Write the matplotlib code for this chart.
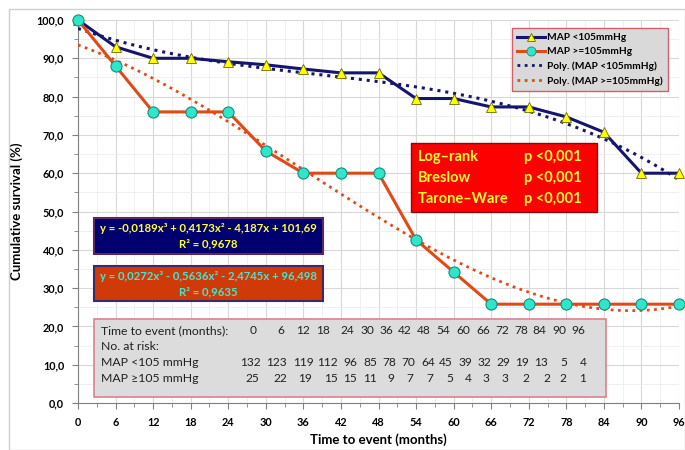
import numpy as np
import matplotlib.pyplot as plt
from matplotlib.lines import Line2D
from matplotlib.patches import Rectangle
from matplotlib.ticker import MultipleLocator, FuncFormatter

plt.rcParams['font.family'] = ['Lato', 'DejaVu Sans']

# dados
meses = [0, 6, 12, 18, 24, 30, 36, 42, 48, 54, 60, 66, 72, 78, 84, 90, 96]
map_baixo = [100, 93.0, 90.0, 90.0, 89.1, 88.3, 87.2, 86.2, 86.2, 79.5, 79.5,
             77.3, 77.3, 74.7, 70.7, 60.0, 60.0]
map_alto = [100, 88.0, 76.0, 76.0, 76.0, 65.8, 60.0, 60.0, 60.0, 42.6, 34.2,
            25.8, 25.8, 25.8, 25.8, 25.8, 25.8]

risco_baixo = [132, 123, 119, 112, 96, 85, 78, 70, 64, 45, 39, 32, 29, 19, 13, 5, 4]
risco_alto = [25, 22, 19, 15, 15, 11, 9, 7, 7, 5, 4, 3, 3, 2, 2, 2, 1]

eq_baixo = ['y = -0,0189x³ + 0,4173x² - 4,187x + 101,69', 'R² = 0,9678']
eq_alto = ['y = 0,0272x³ - 0,5636x² - 2,4745x + 96,498', 'R² = 0,9635']
testes = ['Log\u2013rank', 'Breslow', 'Tarone\u2013Ware']
p_valores = ['p <0,001', 'p <0,001', 'p <0,001']

AZUL = '#15156e'
LARANJA = '#e04a16'

W, H = 685, 450
fig = plt.figure(figsize=(6.85, 4.5), dpi=100)
fig.patch.set_facecolor('white')


def px(x, y):
    return x / W, 1 - y / H


def caixa(x0, y0, x1, y1, fc, ec, lw=1.0):
    fig.patches.append(Rectangle(px(x0, y1), (x1 - x0) / W, (y1 - y0) / H,
                                 transform=fig.transFigure, facecolor=fc,
                                 edgecolor=ec, linewidth=lw, zorder=5))


# moldura externa
fig.patches.append(Rectangle((9 / W, 0), 1 - 9 / W, 1 - 9 / H, transform=fig.transFigure,
                             facecolor='none', edgecolor='#d0d0d0', linewidth=1))

ax = fig.add_axes([78 / W, 1 - 403 / H, (679 - 78) / W, (403 - 20) / H])
ax.set_xlim(0, 96)
ax.set_ylim(0, 100)

ax.xaxis.set_major_locator(MultipleLocator(6))
ax.xaxis.set_minor_locator(MultipleLocator(3))
ax.yaxis.set_major_locator(MultipleLocator(10))
ax.yaxis.set_minor_locator(MultipleLocator(5))
ax.yaxis.set_major_formatter(FuncFormatter(lambda v, p: f'{v:.1f}'.replace('.', ',')))
ax.grid(which='major', color='#d8d8d8', linewidth=0.8)
ax.grid(which='minor', color='#ececec', linewidth=0.6)
ax.set_axisbelow(True)
for s in ['top', 'right']:
    ax.spines[s].set_visible(False)
for s in ['left', 'bottom']:
    ax.spines[s].set_color('#808080')
ax.tick_params(which='both', direction='out', color='#808080')
ax.tick_params(which='major', length=4, labelsize=7.8, pad=6)
ax.tick_params(which='minor', length=3)
for lbl in ax.get_xticklabels() + ax.get_yticklabels():
    lbl.set_fontweight('bold')

ax.set_xlabel('Time to event (months)', fontsize=9.5, fontweight='bold', labelpad=4)
ax.set_ylabel('Cumulative survival (%)', fontsize=9.5, fontweight='bold', labelpad=10)

# curvas
ax.plot(meses, map_baixo, color=AZUL, linewidth=2.2, marker='^', markersize=7,
        markerfacecolor='#ffff00', markeredgecolor='#6b6b00', markeredgewidth=0.6,
        clip_on=False, zorder=4)
ax.plot(meses, map_alto, color=LARANJA, linewidth=2.2, marker='o', markersize=8,
        markerfacecolor='#2ee6c8', markeredgecolor='#1a8a80', markeredgewidth=0.8,
        clip_on=False, zorder=4)

# linhas de tendência polinomiais (grau 3, índice 1..17 como no Excel)
idx = np.arange(1, len(meses) + 1)
xx = np.linspace(1, len(meses), 200)
xm = (xx - 1) * 6
pb = np.polyfit(idx, map_baixo, 3)
pa = np.polyfit(idx, map_alto, 3)
ax.plot(xm, np.polyval(pb, xx), color=AZUL, linestyle=(0, (1, 1.6)), linewidth=2.2, zorder=3)
ax.plot(xm, np.polyval(pa, xx), color=LARANJA, linestyle=(0, (1, 1.6)), linewidth=2.0, zorder=3)

# legenda
handles = [
    Line2D([], [], color=AZUL, linewidth=2.2, marker='^', markersize=6,
           markerfacecolor='#ffff00', markeredgecolor='#6b6b00', markeredgewidth=0.6),
    Line2D([], [], color=LARANJA, linewidth=2.2, marker='o', markersize=6.5,
           markerfacecolor='#2ee6c8', markeredgecolor='#1a8a80', markeredgewidth=0.6),
    Line2D([], [], color=AZUL, linestyle=(0, (1, 1.6)), linewidth=2),
    Line2D([], [], color=LARANJA, linestyle=(0, (1, 1.6)), linewidth=2),
]
nomes = ['MAP <105mmHg', 'MAP >=105mmHg', 'Poly. (MAP <105mmHg)', 'Poly. (MAP >=105mmHg)']
leg = fig.legend(handles, nomes, loc='upper right', bbox_to_anchor=px(673, 23),
                 prop={'weight': 'bold', 'size': 7.3}, handlelength=2.8,
                 handletextpad=0.2, borderpad=0.5, labelspacing=0.5,
                 fancybox=False, framealpha=1)
leg.get_frame().set_facecolor('#d9d9d9')
leg.get_frame().set_edgecolor('#d0606a')
leg.get_frame().set_linewidth(1)

# caixa de testes
caixa(411, 143, 597, 212, '#ff0000', '#7a1010', 1)
for i, (t, p) in enumerate(zip(testes, p_valores)):
    y = 157 + i * 21
    fig.text(*px(418, y), t, color='#ffff33', fontsize=10.5, fontweight='bold',
             va='center', ha='left', zorder=6)
    fig.text(*px(524, y), p, color='#ffff33', fontsize=10.5, fontweight='bold',
             va='center', ha='left', zorder=6)

# equações
caixa(94, 218, 323, 254, '#000070', '#5a2a5a', 1.5)
fig.text(*px(208, 228), eq_baixo[0], color='#ffff33', fontsize=8.2, fontweight='bold',
         ha='center', va='center', zorder=6)
fig.text(*px(208, 244), eq_baixo[1], color='#ffff33', fontsize=8.2, fontweight='bold',
         ha='center', va='center', zorder=6)
caixa(94, 266, 323, 301, '#d03a08', '#3a2a6a', 1.5)
fig.text(*px(208, 276), eq_alto[0], color='#40e8d0', fontsize=8.2, fontweight='bold',
         ha='center', va='center', zorder=6)
fig.text(*px(208, 292), eq_alto[1], color='#40e8d0', fontsize=8.2, fontweight='bold',
         ha='center', va='center', zorder=6)

# tabela de risco (posições das colunas em pixels, como no original)
caixa(94, 319, 606, 397, '#dcdcdc', '#e08088', 1.2)
linhas_y = [331, 347, 363, 378]
rotulos = ['Time to event (months):', 'No. at risk:', 'MAP <105 mmHg', 'MAP \u2265105 mmHg']
col_cab = [253, 281, 303, 323, 347, 367, 386, 405, 424, 443, 463, 483, 502, 521, 539, 559, 578]
col_b = [250, 276, 303, 327, 350, 370, 389, 408, 428, 446, 465, 484, 503, 522, 541, 564, 583]
col_a = [252, 280, 305, 331, 350, 370, 391, 410, 430, 450, 468, 486, 505, 526, 547, 563, 583]
for y, r in zip(linhas_y, rotulos):
    fig.text(*px(101, y), r, fontsize=8.8, color='#202020', ha='left', va='center', zorder=6)
for i in range(len(meses)):
    fig.text(*px(col_cab[i], linhas_y[0]), str(meses[i]), fontsize=8.6, color='#202020',
             ha='center', va='center', zorder=6)
    fig.text(*px(col_b[i], linhas_y[2]), str(risco_baixo[i]), fontsize=8.6, color='#202020',
             ha='center', va='center', zorder=6)
    fig.text(*px(col_a[i], linhas_y[3]), str(risco_alto[i]), fontsize=8.6, color='#202020',
             ha='center', va='center', zorder=6)

plt.savefig('out.png', dpi=100)
